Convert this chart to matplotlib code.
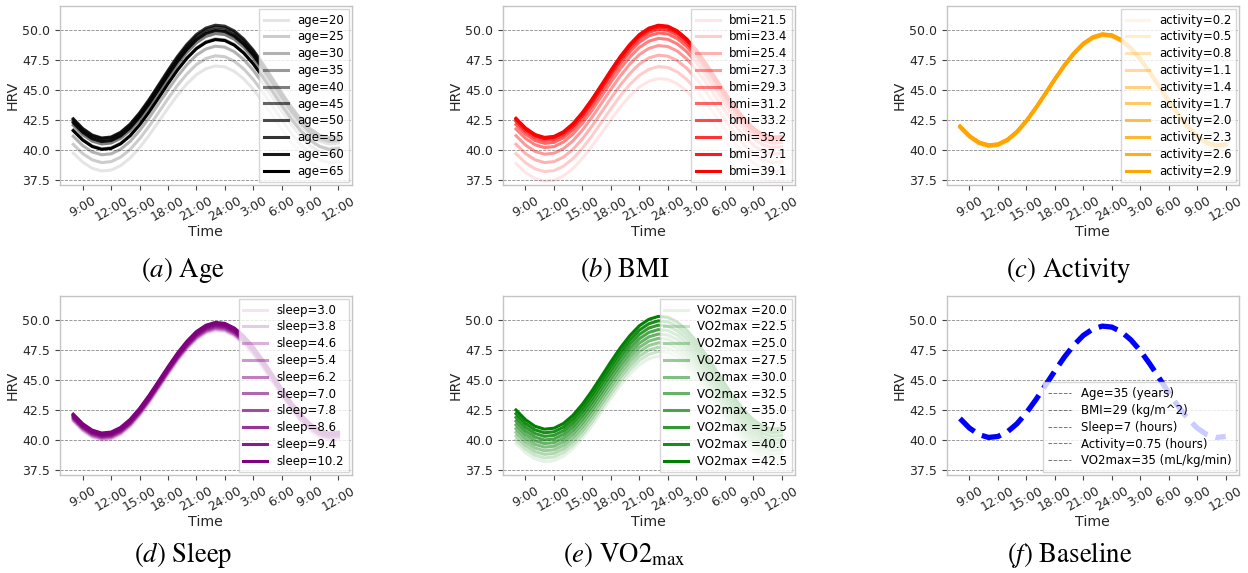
import matplotlib
matplotlib.use("Agg")
import matplotlib.pyplot as plt
from matplotlib.lines import Line2D
import numpy as np

plt.rcParams['font.family'] = ['DejaVu Sans']
plt.rcParams['mathtext.fontset'] = 'stix'

# ---------------- data ----------------
hours = list(range(8, 37))  # 8:00 (day 1) .. 12:00 (day 2)
# baseline HRV curve, hourly
baseline_hrv = [41.79, 40.99, 40.45, 40.21, 40.29, 40.68, 41.35, 42.27, 43.36, 44.55,
                45.76, 46.91, 47.91, 48.72, 49.25, 49.49, 49.41, 49.02, 48.35, 47.44,
                46.34, 45.15, 43.94, 42.79, 41.79, 40.99, 40.45, 40.21, 40.29]

tick_hours = [9, 12, 15, 18, 21, 24, 27, 30, 33, 36]
tick_labels = ["9:00", "12:00", "15:00", "18:00", "21:00", "24:00", "3:00", "6:00", "9:00", "12:00"]

age_values = [20, 25, 30, 35, 40, 45, 50, 55, 60, 65]
age_trough = [38.25, 38.95, 39.6, 40.1, 40.5, 40.8, 40.95, 41.0, 40.7, 40.05]
age_peak = [47.0, 47.85, 48.65, 49.25, 49.7, 50.05, 50.25, 50.4, 49.95, 49.2]

bmi_values = [21.5, 23.4, 25.4, 27.3, 29.3, 31.2, 33.2, 35.2, 37.1, 39.1]
bmi_trough = [37.4, 38.2, 38.95, 39.65, 40.2, 40.55, 40.8, 40.95, 41.0, 41.05]
bmi_peak = [45.95, 46.95, 47.9, 48.7, 49.3, 49.75, 50.05, 50.25, 50.35, 50.4]

activity_values = [0.2, 0.5, 0.8, 1.1, 1.4, 1.7, 2.0, 2.3, 2.6, 2.9]
activity_trough = [40.25, 40.27, 40.29, 40.31, 40.33, 40.35, 40.37, 40.39, 40.41, 40.43]
activity_peak = [49.5, 49.52, 49.54, 49.56, 49.58, 49.6, 49.62, 49.64, 49.66, 49.68]

sleep_values = [3.0, 3.8, 4.6, 5.4, 6.2, 7.0, 7.8, 8.6, 9.4, 10.2]
sleep_trough = [39.95, 40.05, 40.12, 40.2, 40.27, 40.33, 40.4, 40.46, 40.52, 40.58]
sleep_peak = [49.1, 49.2, 49.28, 49.36, 49.44, 49.52, 49.6, 49.67, 49.74, 49.8]

vo2_values = [20.0, 22.5, 25.0, 27.5, 30.0, 32.5, 35.0, 37.5, 40.0, 42.5]
vo2_trough = [38.2, 38.5, 38.8, 39.1, 39.4, 39.7, 40.0, 40.3, 40.6, 40.9]
vo2_peak = [47.0, 47.37, 47.73, 48.1, 48.47, 48.83, 49.2, 49.57, 49.93, 50.3]

baseline_labels = ["Age=35 (years)", "BMI=29 (kg/m^2)", "Sleep=7 (hours)",
                   "Activity=0.75 (hours)", "VO2max=35 (mL/kg/min)"]

captions = [r"$(a)$ Age", r"$(b)$ BMI", r"$(c)$ Activity",
            r"$(d)$ Sleep", r"$(e)$ VO2$_{\mathrm{max}}$", r"$(f)$ Baseline"]

# ---------------- figure ----------------
W, H = 1248, 573
fig = plt.figure(figsize=(W / 100, H / 100), dpi=100)

def px_axes(left, right, top, bottom):
    return fig.add_axes([left / W, 1 - bottom / H, (right - left) / W, (bottom - top) / H])

lefts = [(60, 351.7), (502.7, 795), (946.7, 1239)]
rows = [(6, 185), (296, 475)]
axes = []
for (t, b) in rows:
    for (l, r) in lefts:
        axes.append(px_axes(l, r, t, b))

base = np.array(baseline_hrv)
bnorm = (base - base.min()) / (base.max() - base.min())


def style(ax):
    ax.set_xlim(6.6, 37.4)
    ax.set_ylim(37.08, 52.0)
    ax.set_yticks([37.5, 40.0, 42.5, 45.0, 47.5, 50.0])
    ax.set_xticks(tick_hours)
    ax.set_xticklabels(tick_labels, rotation=30)
    ax.grid(axis='y', ls='--', color='#8a8a8a', lw=0.6)
    ax.set_axisbelow(True)
    for s in ax.spines.values():
        s.set_color('#c4c4c4')
        s.set_linewidth(1.0)
    ax.tick_params(labelsize=9.0, length=3.5, width=0.8, color='#444444', labelcolor='#262626')
    ax.set_xlabel("Time", fontsize=10.2, color='#262626', labelpad=1)
    ax.set_ylabel("HRV", fontsize=10.2, color='#262626', labelpad=2)


LEG = dict(fontsize=8.5, labelspacing=0.32, framealpha=0.8, edgecolor='#cccccc',
           fancybox=False, borderpad=0.4, borderaxespad=0.25, handlelength=2.0)

panels = [
    (age_values, age_trough, age_peak, 'black', "age={}"),
    (bmi_values, bmi_trough, bmi_peak, 'red', "bmi={}"),
    (activity_values, activity_trough, activity_peak, 'orange', "activity={}"),
    (sleep_values, sleep_trough, sleep_peak, 'purple', "sleep={}"),
    (vo2_values, vo2_trough, vo2_peak, 'green', "VO2max ={}"),
]

for ax, (vals, lo, hi, col, fmt) in zip(axes[:5], panels):
    for i, v in enumerate(vals):
        y = lo[i] + (hi[i] - lo[i]) * bnorm
        ax.plot(hours, y, color=col, alpha=(i + 1) / 10, lw=2.2, label=fmt.format(v))
    style(ax)
    ax.legend(loc='upper right', **LEG)

axf = axes[5]
axf.plot(hours, baseline_hrv, color='blue', ls='--', lw=3.8)
style(axf)
handles = [Line2D([], [], color='#777777', ls='--', lw=0.7) for _ in baseline_labels]
axf.legend(handles, baseline_labels, loc='lower right', **LEG)

cap_x = [183, 625, 1069, 183, 624, 1070]
cap_y = [277, 277, 277, 562, 562, 562]
for c, x, y in zip(captions, cap_x, cap_y):
    fig.text(x / W, 1 - y / H, c, ha='center', va='baseline', fontsize=19.3,
             family='STIXGeneral')

fig.savefig("out.png", dpi=100)
